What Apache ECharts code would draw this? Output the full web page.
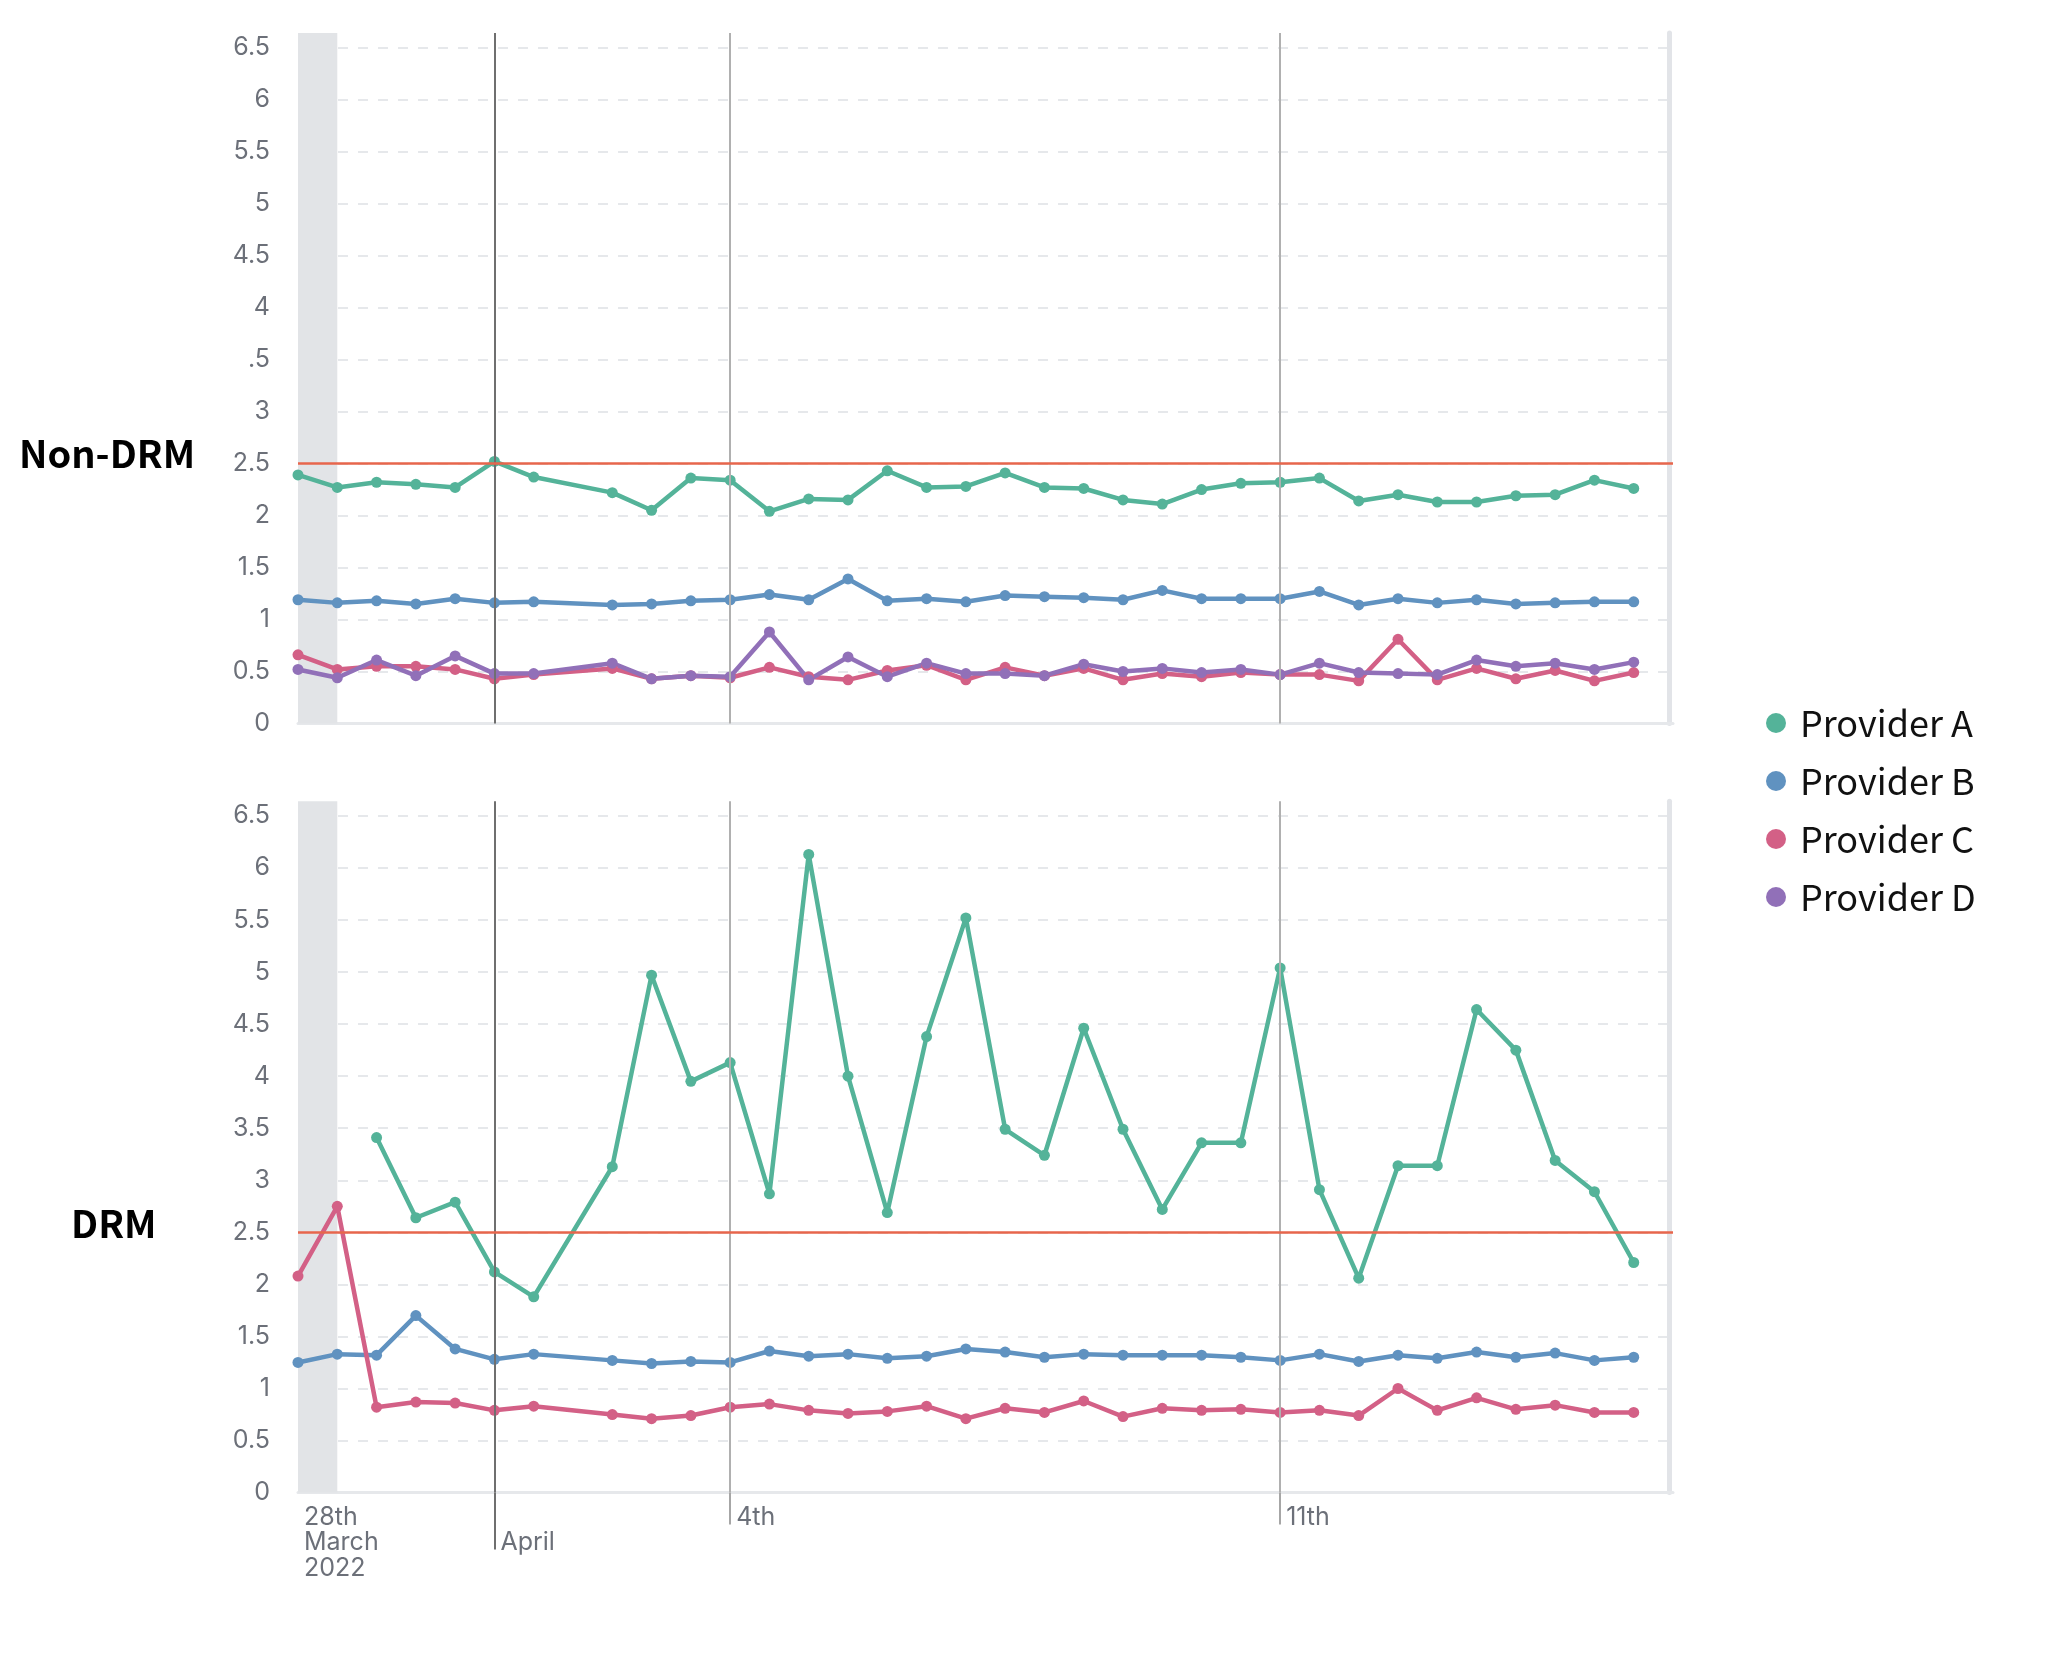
<!DOCTYPE html>
<html>
<head>
<meta charset="utf-8">
<script src="https://cdn.jsdelivr.net/npm/echarts@6/dist/echarts.min.js"></script>
<style>
html,body{margin:0;padding:0;background:#ffffff;}
#chart{width:2048px;height:1657px;}
</style>
</head>
<body>
<div id="chart"></div>
<script>
// 12-hour buckets; the last bucket is empty padding at the right edge of the plot
const categories = [
  '29 Mar 12:00','30 Mar 00:00','30 Mar 12:00','31 Mar 00:00','31 Mar 12:00',
  '1 Apr 00:00','1 Apr 12:00','2 Apr 00:00','2 Apr 12:00','3 Apr 00:00','3 Apr 12:00',
  '4 Apr 00:00','4 Apr 12:00','5 Apr 00:00','5 Apr 12:00','6 Apr 00:00','6 Apr 12:00',
  '7 Apr 00:00','7 Apr 12:00','8 Apr 00:00','8 Apr 12:00','9 Apr 00:00','9 Apr 12:00',
  '10 Apr 00:00','10 Apr 12:00','11 Apr 00:00','11 Apr 12:00','12 Apr 00:00','12 Apr 12:00',
  '13 Apr 00:00','13 Apr 12:00','14 Apr 00:00','14 Apr 12:00','15 Apr 00:00','15 Apr 12:00',
  '16 Apr 00:00'
];

const seriesNames = ['Provider A', 'Provider B', 'Provider C', 'Provider D'];

// Non-DRM panel
const nonDrmA = [2.39,2.27,2.32,2.30,2.27,2.52,2.37,null,2.22,2.05,2.36,2.34,2.04,2.16,2.15,2.43,2.27,2.28,2.41,2.27,2.26,2.15,2.11,2.25,2.31,2.32,2.36,2.14,2.20,2.13,2.13,2.19,2.20,2.34,2.26];
const nonDrmB = [1.19,1.16,1.18,1.15,1.20,1.16,1.17,null,1.14,1.15,1.18,1.19,1.24,1.19,1.39,1.18,1.20,1.17,1.23,1.22,1.21,1.19,1.28,1.20,1.20,1.20,1.27,1.14,1.20,1.16,1.19,1.15,1.16,1.17,1.17];
const nonDrmC = [0.66,0.52,0.55,0.55,0.52,0.43,0.47,null,0.53,0.43,0.46,0.44,0.54,0.45,0.42,0.51,0.56,0.42,0.54,0.46,0.53,0.42,0.48,0.45,0.49,0.47,0.47,0.41,0.81,0.42,0.53,0.43,0.51,0.41,0.49];
const nonDrmD = [0.52,0.44,0.61,0.46,0.65,0.48,0.48,null,0.58,0.43,0.46,0.45,0.88,0.42,0.64,0.45,0.58,0.48,0.48,0.46,0.57,0.50,0.53,0.49,0.52,0.47,0.58,0.49,0.48,0.47,0.61,0.55,0.58,0.52,0.59];

// DRM panel
const drmA = [null,null,3.41,2.64,2.79,2.12,1.88,null,3.13,4.97,3.95,4.13,2.87,6.13,4.00,2.69,4.38,5.52,3.49,3.24,4.46,3.49,2.72,3.36,3.36,5.04,2.91,2.06,3.14,3.14,4.64,4.25,3.19,2.89,2.21];
const drmB = [1.25,1.33,1.32,1.70,1.38,1.28,1.33,null,1.27,1.24,1.26,1.25,1.36,1.31,1.33,1.29,1.31,1.38,1.35,1.30,1.33,1.32,1.32,1.32,1.30,1.27,1.33,1.26,1.32,1.29,1.35,1.30,1.34,1.27,1.30];
const drmC = [2.08,2.75,0.82,0.87,0.86,0.79,0.83,null,0.75,0.71,0.74,0.82,0.85,0.79,0.76,0.78,0.83,0.71,0.81,0.77,0.88,0.73,0.81,0.79,0.80,0.77,0.79,0.74,1.00,0.79,0.91,0.80,0.84,0.77,0.77];

// reference marks
const thresholdValue = 2.5;
const monthLineIndex = 5;         // April
const weekLineIndices = [11, 25]; // 4th, 11th
const partialBucket = [0, 1];

// tick labels by category index
const dayTickLabels = {0: '28th\nMarch\n2022', 11: '4th', 25: '11th'};
const monthTickLabels = {5: 'April'};

const panelTitles = ['Non-DRM', 'DRM'];

const colors = ['#54b399', '#6092c0', '#d36086', '#9170b8'];
const axisFont = 'Inter, "Noto Sans", sans-serif';
const axisColor = '#6c7079';
const titleFont = '"Noto Sans CJK KR", "Noto Sans", sans-serif';
const yMax = 6.64;

function yLabel(panel) {
  return function (v) {
    if (Math.abs(v * 2 - Math.round(v * 2)) > 1e-6) return '';
    if (panel === 0 && Math.abs(v - 3.5) < 1e-6) return '.5';
    return String(v);
  };
}

function leftY(grid, panel) {
  return {
    type: 'value', gridIndex: grid, min: 0, max: yMax, interval: 0.5, position: 'left',
    axisLine: {show: false}, axisTick: {show: false},
    axisLabel: {margin: 28, fontFamily: axisFont, fontSize: 25, color: axisColor, formatter: yLabel(panel)},
    splitLine: {show: true, showMaxLine: false, showMinLine: false,
      lineStyle: {color: '#e6e8eb', width: 2, type: [10, 10]}}
  };
}
function rightY(grid) {
  return {
    type: 'value', gridIndex: grid, min: 0, max: yMax, position: 'right', offset: -4,
    axisLine: {show: true, lineStyle: {color: '#e2e4e8', width: 5}},
    axisTick: {show: false}, axisLabel: {show: false}, splitLine: {show: false}
  };
}

function guideSeries(xi, yi) {
  return {
    type: 'line', name: 'guides' + xi, xAxisIndex: xi, yAxisIndex: yi, data: [], z: 1,
    silent: true,
    markArea: {
      silent: true,
      itemStyle: {color: '#e2e4e7'},
      data: [[{xAxis: partialBucket[0]}, {xAxis: partialBucket[1]}]]
    },
    markLine: {
      silent: true, symbol: ['none', 'none'], label: {show: false},
      lineStyle: {type: 'solid'},
      data: [
        {xAxis: monthLineIndex, lineStyle: {color: '#6f6f6f', width: 2, type: 'solid'}},
        ...weekLineIndices.map(i => ({xAxis: i, lineStyle: {color: '#b0b0b0', width: 2, type: 'solid'}})),
        {yAxis: thresholdValue, lineStyle: {color: '#e7664c', width: 2.5, type: 'solid'}}
      ]
    }
  };
}

function dataSeries(name, idx, values, xi, yi) {
  return {
    name: name, type: 'line', xAxisIndex: xi, yAxisIndex: yi, data: values,
    connectNulls: true, symbol: 'circle', symbolSize: 11, showSymbol: true, showAllSymbol: true,
    lineStyle: {width: 4.5, color: colors[idx]},
    itemStyle: {color: colors[idx]},
    emphasis: {disabled: true}, z: 3
  };
}

const gridLeft = 298;
const gridRight = 375;

const option = {
  animation: false,
  backgroundColor: '#ffffff',
  title: [
    {text: panelTitles[0], left: 19, top: 431, padding: 0,
      textStyle: {fontFamily: titleFont, fontWeight: 'bold', fontSize: 38, lineHeight: 46, color: '#000'}},
    {text: panelTitles[1], left: 71, top: 1201, padding: 0,
      textStyle: {fontFamily: titleFont, fontWeight: 'bold', fontSize: 38, lineHeight: 46, color: '#000'}}
  ],
  legend: {
    data: seriesNames, orient: 'vertical', left: 1766, top: 703, padding: 0,
    itemWidth: 38, itemHeight: 20, itemGap: 18, icon: 'circle', selectedMode: false,
    textStyle: {fontFamily: titleFont, fontSize: 36, lineHeight: 40, color: '#111111'}
  },
  grid: [
    {left: gridLeft, right: gridRight, top: 33, height: 690.5, containLabel: false},
    {left: gridLeft, right: gridRight, top: 801.3, height: 691.3, containLabel: false}
  ],
  xAxis: [
    {type: 'category', gridIndex: 0, position: 'bottom', data: categories, boundaryGap: false,
      axisLine: {show: true, lineStyle: {color: '#e6e8eb', width: 3}},
      axisTick: {show: false}, axisLabel: {show: false}, splitLine: {show: false}},
    {type: 'category', gridIndex: 1, position: 'bottom', data: categories, boundaryGap: false,
      axisLine: {show: true, lineStyle: {color: '#e6e8eb', width: 3}},
      axisTick: {show: true, interval: (i) => (i in dayTickLabels) && i !== 0, length: 32,
        lineStyle: {color: '#a6a6a6', width: 2}},
      axisLabel: {show: true, interval: (i) => (i in dayTickLabels),
        formatter: (v, i) => dayTickLabels[i] || '',
        align: 'left', verticalAlign: 'top', margin: 12, padding: [0, 0, 0, 6],
        fontFamily: axisFont, fontSize: 25, lineHeight: 25.5, color: axisColor},
      splitLine: {show: false}},
    {type: 'category', gridIndex: 1, position: 'bottom', offset: 0, data: categories, boundaryGap: false,
      axisLine: {show: false},
      axisTick: {show: true, interval: (i) => (i in monthTickLabels), length: 57,
        lineStyle: {color: '#6f6f6f', width: 2}},
      axisLabel: {show: true, interval: (i) => (i in monthTickLabels),
        formatter: (v, i) => monthTickLabels[i] || '',
        align: 'left', verticalAlign: 'top', margin: 37.5, padding: [0, 0, 0, 6],
        fontFamily: axisFont, fontSize: 25, lineHeight: 25.5, color: axisColor},
      splitLine: {show: false}}
  ],
  yAxis: [leftY(0, 0), rightY(0), leftY(1, 1), rightY(1)],
  series: [
    guideSeries(0, 0),
    dataSeries(seriesNames[0], 0, nonDrmA, 0, 0),
    dataSeries(seriesNames[1], 1, nonDrmB, 0, 0),
    dataSeries(seriesNames[2], 2, nonDrmC, 0, 0),
    dataSeries(seriesNames[3], 3, nonDrmD, 0, 0),
    guideSeries(1, 2),
    dataSeries(seriesNames[0], 0, drmA, 1, 2),
    dataSeries(seriesNames[1], 1, drmB, 1, 2),
    dataSeries(seriesNames[2], 2, drmC, 1, 2)
  ]
};

const chart = echarts.init(document.getElementById('chart'), null, {renderer: 'canvas'});
chart.setOption(option);
</script>
</body>
</html>
